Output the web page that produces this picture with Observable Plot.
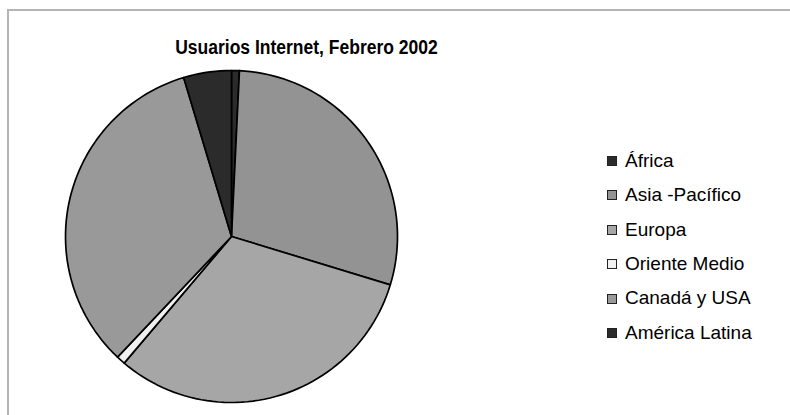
<!DOCTYPE html>
<html>
<head>
<meta charset="utf-8">
<script src="https://cdn.jsdelivr.net/npm/d3@7"></script>
<script src="https://cdn.jsdelivr.net/npm/@observablehq/plot@0.6"></script>
<style>
  body { margin: 0; background: #fff; }
  #wrap { position: relative; width: 790px; height: 415px; overflow: hidden; background: #fff; font-family: Arial, "Liberation Sans", sans-serif; }
  #frame { position: absolute; left: 7px; top: 9px; width: 800px; height: 420px; border: 2px solid #b4b4b4; box-sizing: border-box; }
  #chart { position: absolute; left: 0; top: 0; }
  #title { position: absolute; left: 0; width: 613px; top: 38.5px; line-height: normal; text-align: center; font-weight: bold; font-size: 17.5px; color: #000; white-space: nowrap; transform: scaleY(1.12); transform-origin: center bottom; }
  #legend { position: absolute; left: 607px; top: 149.8px; }
  .row { height: 34.4px; display: flex; align-items: flex-start; font-size: 19px; line-height: normal; color: #000; white-space: nowrap; }
  .sw { width: 10px; height: 10px; border: 1px solid #222; box-sizing: border-box; margin-top: 6.2px; margin-right: 8px; flex: none; }
</style>
</head>
<body>
<div id="wrap">
  <div id="frame"></div>
  <div id="chart"></div>
  <div id="title">Usuarios Internet, Febrero 2002</div>
  <div id="legend"></div>
</div>
<script>
// Data: Internet users (millions), February 2002
const regions = ["África", "Asia -Pacífico", "Europa", "Oriente Medio", "Canadá y USA", "América Latina"];
const users = [4.15, 157.49, 171.35, 4.65, 181.23, 25.33];
const shades = ["#2b2b2b", "#939393", "#a6a6a6", "#f0f0f0", "#999999", "#2b2b2b"];

const arcs = d3.pie().sort(null).value(d => d)(users);
const pts = [];
arcs.forEach((a, i) => {
  const name = regions[i];
  pts.push({name, x: 0, y: 0});
  const n = Math.max(2, Math.ceil((a.endAngle - a.startAngle) / (Math.PI / 90)));
  for (let k = 0; k <= n; k++) {
    const t = a.startAngle + (a.endAngle - a.startAngle) * k / n;
    pts.push({name, x: Math.sin(t), y: Math.cos(t)});
  }
  pts.push({name, x: 0, y: 0});
});

const cx = 231, cy = 236, r = 166;
const chart = Plot.plot({
  width: 790,
  height: 415,
  margin: 0,
  x: {domain: [-1, 1], range: [cx - r, cx + r], axis: null},
  y: {domain: [-1, 1], range: [cy + r, cy - r], axis: null},
  color: {domain: regions, range: shades},
  marks: [
    Plot.line(pts, {x: "x", y: "y", z: "name", fill: "name", stroke: "#000", strokeWidth: 1.7, strokeLinejoin: "round", curve: "linear"})
  ]
});
document.getElementById("chart").appendChild(chart);

const legend = document.getElementById("legend");
regions.forEach((name, i) => {
  const row = document.createElement("div");
  row.className = "row";
  const sw = document.createElement("div");
  sw.className = "sw";
  sw.style.background = shades[i];
  const label = document.createElement("span");
  label.textContent = name;
  row.appendChild(sw);
  row.appendChild(label);
  legend.appendChild(row);
});
</script>
</body>
</html>
